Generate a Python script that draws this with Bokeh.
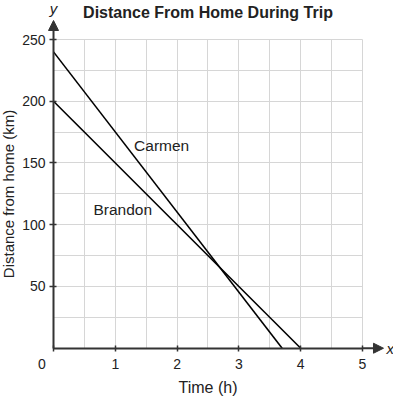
from bokeh.plotting import figure
from bokeh.models import (Range1d, FixedTicker, SingleIntervalTicker, Label, LinearAxis, Grid,
                          Arrow, NormalHead)
from bokeh.embed import file_html
from bokeh.resources import INLINE

# ---- data ----
names = ["Carmen", "Brandon"]
carmen_time = [0, 3.7]
carmen_dist = [240, 0]
brandon_time = [0, 4]
brandon_dist = [200, 0]
x_ticks = [0, 1, 2, 3, 4, 5]
x_tick_labels = {0: "0\u00a0\u00a0\u00a0\u00a0\u00a0\u00a0"}
y_ticks = [50, 100, 150, 200, 250]
title_text = "Distance From Home During Trip"
x_label = "Time (h)"
y_label = "Distance from home (km)"

# ---- layout / styling ----
label_pos = {"Carmen": (1.75, 164), "Brandon": (1.12, 112)}
X_MAX, Y_MAX = 5, 250                 # extent of the grid
X_START, X_END = -0.858, 5.502        # visible extent (axes drawn inside the frame)
Y_START, Y_END = -39.1, 281.6
X_TIP, Y_TIP = 5.34, 265.4            # arrow tips
TITLE_Y = 271.5
FONT = "Liberation Sans"
AX = "#333333"
TXT = "#222222"

p = figure(width=393, height=396, output_backend="svg", toolbar_location=None,
           x_range=Range1d(X_START, X_END), y_range=Range1d(Y_START, Y_END),
           x_axis_type=None, y_axis_type=None,
           min_border_left=0, min_border_right=0, min_border_top=0, min_border_bottom=0)
p.outline_line_color = None
p.background_fill_color = "white"
p.border_fill_color = "white"

# grid
xgrid = Grid(dimension=0, ticker=SingleIntervalTicker(interval=0.5),
             bounds=(0, X_MAX), cross_bounds=(0, Y_MAX),
             grid_line_color="#d6d6d6", grid_line_width=1)
ygrid = Grid(dimension=1, ticker=SingleIntervalTicker(interval=25),
             bounds=(0, Y_MAX), cross_bounds=(0, X_MAX),
             grid_line_color="#d6d6d6", grid_line_width=1)
p.add_layout(xgrid)
p.add_layout(ygrid)

# axes, pinned at the data origin
xaxis = LinearAxis(fixed_location=0, ticker=FixedTicker(ticks=x_ticks), bounds=(0, X_MAX),
                   major_label_overrides=x_tick_labels, axis_label=x_label)
yaxis = LinearAxis(fixed_location=0, ticker=FixedTicker(ticks=y_ticks), bounds=(0, Y_MAX),
                   axis_label=y_label)
for ax in (xaxis, yaxis):
    ax.axis_line_color = AX
    ax.axis_line_width = 2
    ax.major_tick_line_color = AX
    ax.major_tick_line_width = 1.5
    ax.minor_tick_line_color = None
    ax.major_label_text_font = FONT
    ax.major_label_text_font_size = "14px"
    ax.major_label_text_color = TXT
    ax.axis_label_text_font = FONT
    ax.axis_label_text_font_style = "normal"
    ax.axis_label_text_color = TXT
xaxis.axis_label_text_font_size = "16px"
yaxis.axis_label_text_font_size = "15px"
xaxis.major_tick_in = 3
xaxis.major_tick_out = 3
yaxis.major_tick_in = 3
yaxis.major_tick_out = 4
xaxis.major_label_standoff = 5
yaxis.major_label_standoff = 4
xaxis.axis_label_standoff = 3
yaxis.axis_label_standoff = 2
p.add_layout(xaxis, "below")
p.add_layout(yaxis, "left")

# lines
p.line(carmen_time, carmen_dist, line_color="black", line_width=1.6)
p.line(brandon_time, brandon_dist, line_color="black", line_width=1.6)

for n in names:
    lx, ly = label_pos[n]
    p.add_layout(Label(x=lx, y=ly, text=n, text_font=FONT, text_font_size="15.5px",
                       text_align="center", text_baseline="middle", text_color=TXT))

# axis arrows
p.add_layout(Arrow(x_start=X_MAX, y_start=0, x_end=X_TIP, y_end=0, line_color=AX, line_width=2,
                   end=NormalHead(size=10, fill_color=AX, line_color=AX, line_width=1)))
p.add_layout(Arrow(x_start=0, y_start=Y_MAX, x_end=0, y_end=Y_TIP, line_color=AX, line_width=2,
                   end=NormalHead(size=10, fill_color=AX, line_color=AX, line_width=1)))
p.add_layout(Label(x=X_TIP, y=0, text="x", x_offset=3, text_font=FONT, text_font_size="15px",
                   text_font_style="italic", text_baseline="middle", text_color=TXT))
p.add_layout(Label(x=0, y=Y_TIP, text="y", y_offset=4, text_font=FONT, text_font_size="15px",
                   text_font_style="italic", text_align="center", text_baseline="bottom",
                   text_color=TXT))

# title, centred over the grid
p.add_layout(Label(x=X_MAX / 2, y=TITLE_Y, text=title_text, text_font=FONT,
                   text_font_size="16px", text_font_style="bold", text_align="center",
                   text_baseline="middle", text_color=TXT))

open("out.html", "w").write(file_html(p, INLINE))
